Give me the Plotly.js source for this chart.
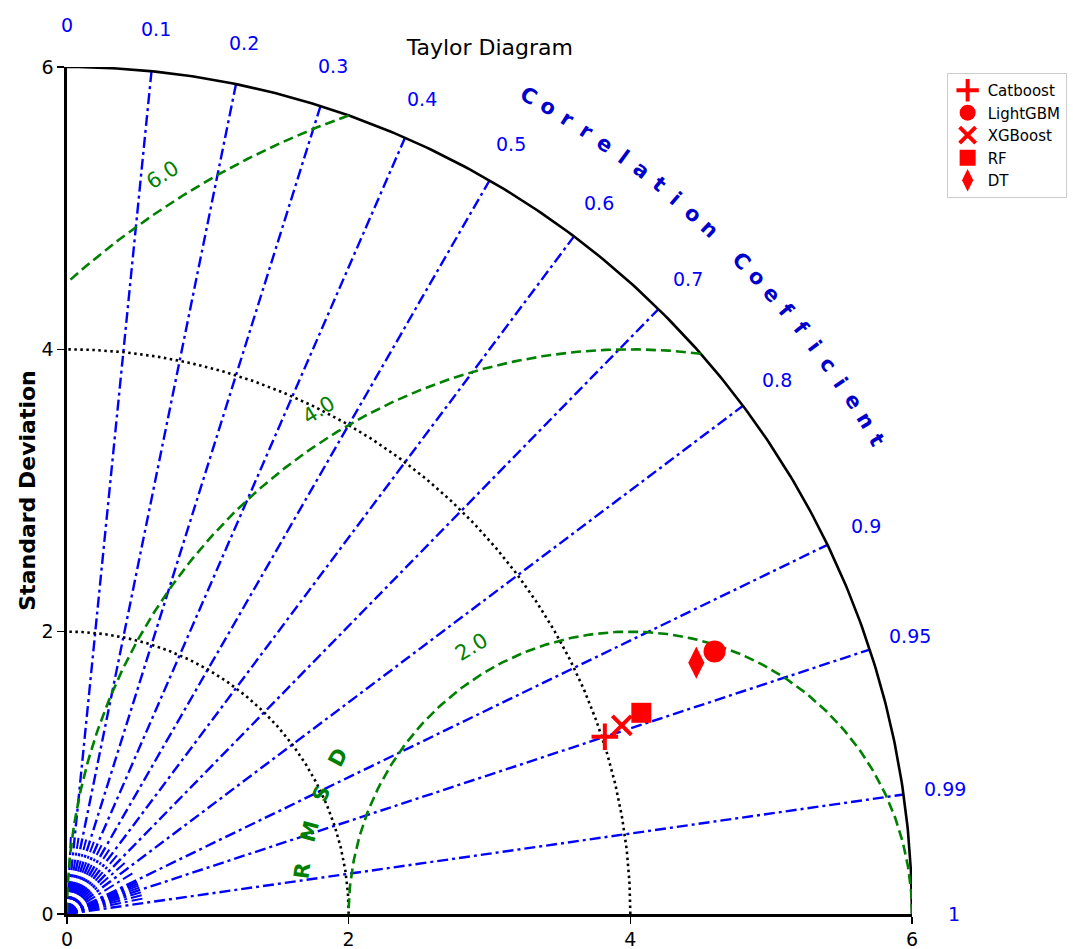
<!DOCTYPE html>
<html>
<head>
<meta charset="utf-8">
<script src="https://cdn.plot.ly/plotly-3.0.1.min.js"></script>
<style>html,body{margin:0;padding:0;background:#fff;}#chart{width:1073px;height:949px;}</style>
</head>
<body>
<div id="chart"></div>
<script>
// ---- Data ----
const models = ['Catboost', 'LightGBM', 'XGBoost', 'RF', 'DT'];
const stdDev = [4.02, 4.96, 4.16, 4.32, 4.81];
const corrCoef = [0.950, 0.927, 0.947, 0.944, 0.929];
const symbols = ['cross-thin', 'circle', 'x-thin', 'square', 'diamond-tall'];

const refStd = 4.0;
const stdTicks = [0, 2, 4, 6];
const stdArcs = [2, 4];
const maxStd = 6;
const rmsdLevels = [2, 4, 6];
const rmsdLabels = ['2.0', '4.0', '6.0'];
const corrTicks = [0.1, 0.2, 0.3, 0.4, 0.5, 0.6, 0.7, 0.8, 0.9, 0.95, 0.99];
const corrTickLabels = ['0', '0.1', '0.2', '0.3', '0.4', '0.5', '0.6', '0.7', '0.8', '0.9', '0.95', '0.99', '1'];
const corrLabelValues = [0, 0.1, 0.2, 0.3, 0.4, 0.5, 0.6, 0.7, 0.8, 0.9, 0.95, 0.99, 1];
const corrMinor = [0.05, 0.15, 0.25, 0.35, 0.45, 0.55, 0.65, 0.75, 0.85, 0.91, 0.92, 0.93, 0.94, 0.96, 0.97, 0.98];

const FONT = 'DejaVu Sans, Liberation Sans, sans-serif';
const BLUE = '#0000ff';
const GREEN = '#008000';
const deg = Math.PI / 180;
const RANGE = 6;

const traces = [];

// correlation rays
function ray(c, r0, r1, width) {
  const th = Math.acos(c);
  return {
    x: [r0 * Math.cos(th), r1 * Math.cos(th)], y: [r0 * Math.sin(th), r1 * Math.sin(th)],
    mode: 'lines', line: {color: BLUE, width: width, dash: '11px,4px,3px,4px'},
    hoverinfo: 'skip', showlegend: false
  };
}
corrMinor.forEach(c => traces.push(ray(c, 0, 0.55, 2)));
corrTicks.forEach(c => traces.push(ray(c, 0, maxStd, 2.4)));

// arcs
function arc(cx, r, a0, a1) {
  const xs = [], ys = [];
  const n = 240;
  for (let i = 0; i <= n; i++) {
    const a = (a0 + (a1 - a0) * i / n) * deg;
    xs.push(cx + r * Math.cos(a)); ys.push(r * Math.sin(a));
  }
  return {xs, ys};
}
stdArcs.forEach(r => {
  const a = arc(0, r, 0, 90);
  traces.push({x: a.xs, y: a.ys, mode: 'lines', line: {color: 'black', width: 2.6, dash: '2.5px,3.5px'}, hoverinfo: 'skip', showlegend: false});
});
{
  const a = arc(0, maxStd, 0, 90);
  traces.push({x: a.xs, y: a.ys, mode: 'lines', line: {color: 'black', width: 2.6}, hoverinfo: 'skip', showlegend: false});
}

// RMSD arcs (centered at reference std on x axis), limited to the quadrant of radius maxStd
rmsdLevels.forEach(r => {
  const cosMax = (maxStd * maxStd - refStd * refStd - r * r) / (2 * refStd * r);
  const aStart = cosMax >= 1 ? 0 : Math.acos(Math.max(-1, Math.min(1, cosMax))) / deg;
  const cosMin = -refStd / r;
  const aEnd = cosMin <= -1 ? 180 : Math.acos(cosMin) / deg;
  const a = arc(refStd, r, aStart, aEnd);
  traces.push({x: a.xs, y: a.ys, mode: 'lines', line: {color: GREEN, width: 2.6, dash: '10px,5px'}, hoverinfo: 'skip', showlegend: false});
});

// model points
models.forEach((m, i) => {
  const c = corrCoef[i], s = stdDev[i];
  const th = Math.acos(c);
  const thin = symbols[i].indexOf('thin') >= 0;
  traces.push({
    x: [s * Math.cos(th)], y: [s * Math.sin(th)], mode: 'markers', name: m,
    marker: {
      symbol: symbols[i], color: 'red',
      size: thin ? 19 : (symbols[i] === 'diamond-tall' ? 23 : (symbols[i] === 'square' ? 20 : 22)),
      line: {color: 'red', width: thin ? 4 : 0}
    }
  });
});

// annotations (paper coordinates so they can sit outside the axes)
const P = v => v / RANGE;
const annotations = [];
corrLabelValues.forEach((c, i) => {
  const th = Math.acos(c);
  annotations.push({x: P(6.3 * Math.cos(th)), y: P(6.3 * Math.sin(th)), xref: 'paper', yref: 'paper', text: corrTickLabels[i],
    showarrow: false, font: {family: FONT, size: 19, color: BLUE}, xanchor: 'center', yanchor: 'middle'});
});
const corrTitle = 'Correlation Coefficient';
for (let i = 0; i < corrTitle.length; i++) {
  const ch = corrTitle[i];
  if (ch === ' ') continue;
  const a = 60.5 - i * (30.2 / 22);
  annotations.push({x: P(6.66 * Math.cos(a * deg)), y: P(6.66 * Math.sin(a * deg)), xref: 'paper', yref: 'paper', text: '<b>' + ch + '</b>',
    showarrow: false, textangle: 90 - a, font: {family: FONT, size: 21, color: '#0000cc'}, xanchor: 'center', yanchor: 'middle'});
}
const rmsdTitle = 'RMSD';
const rmsdAngles = [172.5, 165.5, 158.7, 152];
for (let i = 0; i < rmsdTitle.length; i++) {
  const a = rmsdAngles[i];
  annotations.push({x: P(refStd + 2.35 * Math.cos(a * deg)), y: P(2.35 * Math.sin(a * deg)), xref: 'paper', yref: 'paper', text: '<b>' + rmsdTitle[i] + '</b>',
    showarrow: false, textangle: 90 - a, font: {family: FONT, size: 21, color: GREEN}, xanchor: 'center', yanchor: 'middle'});
}
const rmsdLabelAngles = [120.8, 121.8, 122.4];
rmsdLevels.forEach((r, i) => {
  const a = rmsdLabelAngles[i];
  annotations.push({x: P(refStd + (r + 0.2) * Math.cos(a * deg)), y: P((r + 0.2) * Math.sin(a * deg)), xref: 'paper', yref: 'paper', text: rmsdLabels[i],
    showarrow: false, textangle: 90 - a, font: {family: FONT, size: 21, color: GREEN}, xanchor: 'center', yanchor: 'middle'});
});

const axisCommon = {
  range: [0, RANGE], tickvals: stdTicks, ticktext: stdTicks.map(String), ticks: 'outside', ticklen: 7, tickwidth: 1.5, tickcolor: 'black',
  showline: true, linewidth: 2.6, linecolor: 'black', showgrid: false, zeroline: false,
  tickfont: {family: FONT, size: 19, color: 'black'}, fixedrange: true
};

const layout = {
  width: 1073, height: 949,
  margin: {l: 67, r: 161, t: 67, b: 35, autoexpand: false},
  paper_bgcolor: 'white', plot_bgcolor: 'white',
  font: {family: FONT},
  title: {text: 'Taylor Diagram', x: 0.4565, xanchor: 'center', y: 1 - 47 / 949, yanchor: 'middle', font: {family: FONT, size: 22, color: 'black'}},
  xaxis: Object.assign({}, axisCommon),
  yaxis: Object.assign({}, axisCommon, {title: {text: '<b>Standard Deviation</b>', font: {family: FONT, size: 22, color: 'black'}, standoff: 0}}),
  showlegend: true,
  legend: {x: 1.041, xanchor: 'left', y: 0.993, yanchor: 'top', bgcolor: 'white', bordercolor: '#cccccc', borderwidth: 1,
    font: {family: FONT, size: 15, color: 'black'}},
  annotations: annotations
};

Plotly.newPlot('chart', traces, layout, {displayModeBar: false, staticPlot: true});
</script>
</body>
</html>
